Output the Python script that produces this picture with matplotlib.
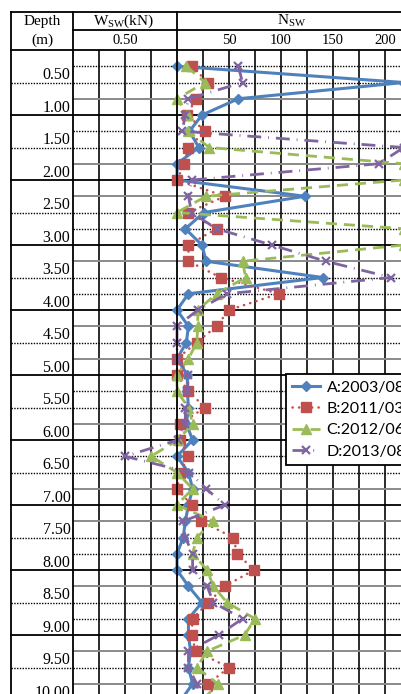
import matplotlib
matplotlib.use('Agg')
import matplotlib.pyplot as plt
from matplotlib.lines import Line2D
from matplotlib.transforms import blended_transform_factory

plt.rcParams['font.family'] = ['Liberation Serif', 'DejaVu Serif']
plt.rcParams['mathtext.fontset'] = 'custom'
plt.rcParams['mathtext.rm'] = 'Liberation Serif'
plt.rcParams['mathtext.it'] = 'Liberation Serif:italic'

# sounding depths (m)
depth = [0.25, 0.50, 0.75, 1.00, 1.25, 1.50, 1.75, 2.00, 2.25, 2.50,
         2.75, 3.00, 3.25, 3.50, 3.75, 4.00, 4.25, 4.50, 4.75, 5.00,
         5.25, 5.50, 5.75, 6.00, 6.25, 6.50, 6.75, 7.00, 7.25, 7.50,
         7.75, 8.00, 8.25, 8.50, 8.75, 9.00, 9.25, 9.50, 9.75, 10.00]

# Nsw (half turns / m); loads below 1 kN are plotted left of zero (-50 = 0.50 kN)
nsw_a = [0, 218, 59, 24, 12, 21, 0, 0, 123, 26,
         8, 24, 28, 140, 11, 0, 11, 9, 0, 10,
         10, 11, 9, 15, 0, 11, 15, 11, 8, 6,
         0, 0, 11, 24, 11, 11, 13, 11, 15, 4]
nsw_b = [14, 30, 18, 10, 27, 11, 7, 0, 46, 11,
         38, 11, 11, 42, 98, 50, 38, 19, 0, 0,
         11, 27, 3, 3, 11, 3, 0, 14, 23, 54,
         58, 74, 46, 30, 15, 14, 18, 50, 30, 38]
nsw_c = [9, 27, 0, 11, 11, 31, 218, 218, 28, 0,
         218, 218, 63, 66, 38, 20, 20, 19, 11, 0,
         0, 11, 15, 1, -25, 0, 15, 0, 35, 19,
         15, 29, 35, 48, 75, 65, 29, 19, 39, 25]
nsw_d = [59, 63, 11, 8, 5, 218, 194, 14, 11, 14,
         38, 91, 143, 206, 48, 20, 0, 0, 0, 11,
         10, 8, 8, 1, -50, 12, 28, 46, 6, 8,
         15, 15, 29, 35, 63, 40, 11, 11, 19, 22]
series_labels = ['A:2003/08', 'B:2011/03', 'C:2012/06', 'D:2013/08']

depth_labels = [0.5, 1.0, 1.5, 2.0, 2.5, 3.0, 3.5, 4.0, 4.5, 5.0,
                5.5, 6.0, 6.5, 7.0, 7.5, 8.0, 8.5, 9.0, 9.5, 10.0]
top_ticks = [-50, 50, 100, 150, 200]
top_tick_labels = ['0.50', '50', '100', '150', '200']

W, H = 401, 694


def fx(x):
    return x / W


def fy(y):
    return 1 - y / H


fig = plt.figure(figsize=(W / 100, H / 100), dpi=100)
ax = fig.add_axes([fx(73), 0, fx(401) - fx(73), fy(50)])
ax.set_xlim(-100, -100 + 328 / 1.04)
ax.set_ylim(644 / 65, 0)
ax.axis('off')

# grid: vertical every 25, horizontal every 0.25 m
for x in range(-75, 250, 25):
    if x == 0:
        continue
    ax.axvline(x, color='#1a1a1a', lw=1.3, zorder=1)

gray_rows = [0.75, 1.75, 2.25, 3.25, 4.25, 4.75, 5.75, 6.75, 7.25, 8.25, 9.25, 9.75]
for d in depth:
    if d == int(d):
        ax.axhline(d, color='k', lw=1.3, zorder=1)
    elif d in gray_rows:
        ax.axhline(d, color='#8a8a8a', lw=1.4, zorder=1)
    else:
        ax.axhline(d, color='k', lw=1.0, ls=(0, (1, 1)), zorder=1)

# depth column: lines every 0.5 m and labels
ytr = ax.get_yaxis_transform()
left_edge = (11 - 73) / 328
for d in depth_labels:
    if d == int(d):
        ax.plot([left_edge, 0], [d, d], color='k', lw=1.3, transform=ytr, clip_on=False)
    else:
        ax.plot([left_edge, 0], [d, d], color='k', lw=1.0, ls=(0, (1, 1)),
                transform=ytr, clip_on=False)
    ax.text(-0.008, d - 0.115, '%.2f' % d, ha='right', va='center', fontsize=11.5,
            transform=ytr, clip_on=False)

# data series
ax.plot(nsw_a, depth, color='#4F81BD', lw=2.2, marker='D', ms=5,
        label=series_labels[0], zorder=3)
ax.plot(nsw_b, depth, color='#C0504D', lw=1.8, ls=(0, (0.1, 2.5)),
        dash_capstyle='round', marker='s', ms=6.5, label=series_labels[1], zorder=3)
ax.plot(nsw_c, depth, color='#9BBB59', lw=2.0, ls=(0, (4, 2.5)),
        marker='^', ms=7, label=series_labels[2], zorder=3)
ax.plot(nsw_d, depth, color='#8064A2', lw=2.0, ls=(0, (5, 2.5, 0.3, 2.5)),
        marker='x', ms=6, mew=1.6, label=series_labels[3], zorder=3)

# table frame and header
frame = dict(color='k', lw=1.3)
fig.add_artist(Line2D([fx(11), 1], [fy(12), fy(12)], **frame))
fig.add_artist(Line2D([fx(73), 1], [fy(30), fy(30)], **frame))
fig.add_artist(Line2D([fx(11), 1], [fy(50), fy(50)], **frame))
for x in (11, 73, 177):
    fig.add_artist(Line2D([fx(x), fx(x)], [fy(12), 0], **frame))

fig.text(fx(42), fy(22), 'Depth', ha='center', va='center', fontsize=11)
fig.text(fx(42), fy(40), '(m)', ha='center', va='center', fontsize=11)
fig.text(fx(124), fy(21), r'W$_{\mathrm{SW}}$(kN)', ha='center', va='center', fontsize=11)
fig.text(fx(292), fy(21), r'N$_{\mathrm{SW}}$', ha='center', va='center', fontsize=11)

tick_tr = blended_transform_factory(ax.transData, fig.transFigure)
for x, s in zip(top_ticks, top_tick_labels):
    ax.text(x, fy(40), s, ha='center', va='center', fontsize=10.5,
            transform=tick_tr, clip_on=False)

leg = ax.legend(loc='upper left', bbox_to_anchor=(fx(286), fy(374)),
                bbox_transform=fig.transFigure, borderaxespad=0,
                fancybox=False, framealpha=1, edgecolor='k',
                prop={'family': 'Lato', 'size': 11.5}, handlelength=1.7,
                handletextpad=0.45, labelspacing=0.45, borderpad=0.4)
leg.get_frame().set_linewidth(1.3)
leg.set_zorder(5)

fig.savefig('out.png', dpi=100)
